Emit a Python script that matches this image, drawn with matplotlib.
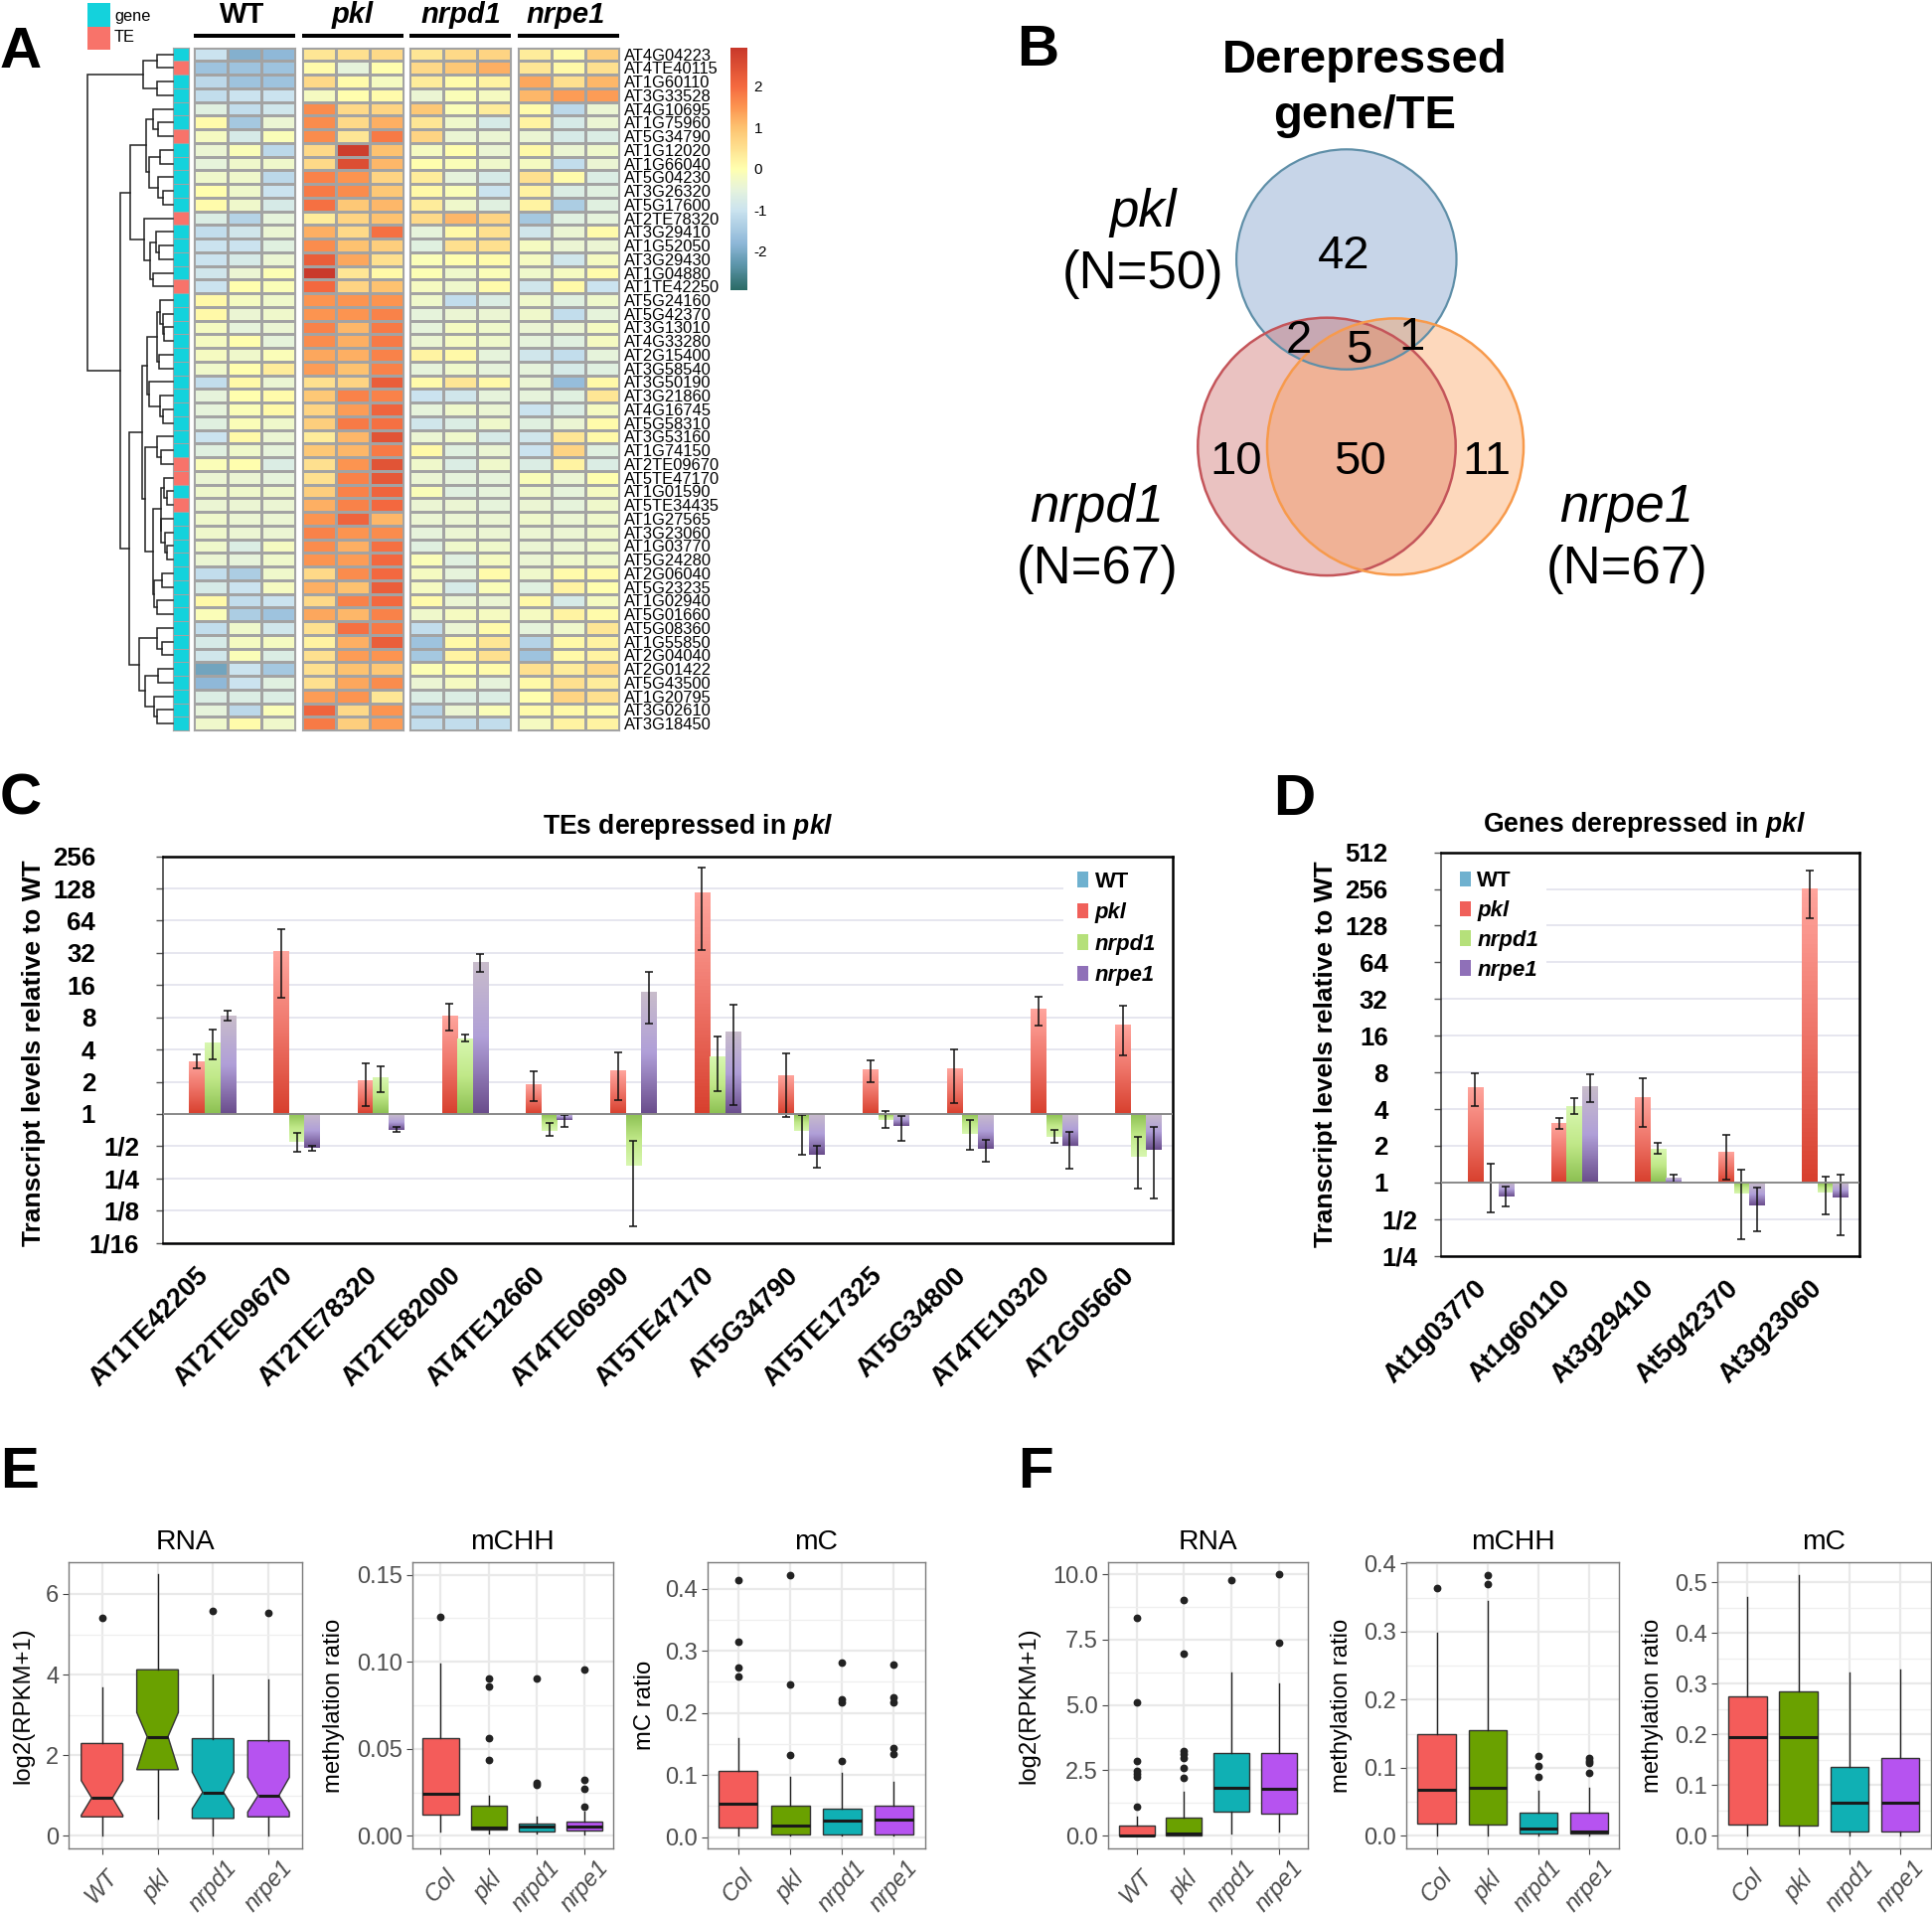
import numpy as np
import matplotlib
matplotlib.use("Agg")
import matplotlib.pyplot as plt
from matplotlib.colors import LinearSegmentedColormap, ListedColormap, Normalize
from matplotlib.cm import ScalarMappable
from matplotlib.patches import Circle, Rectangle, Patch

plt.rcParams['font.family'] = 'Liberation Sans'
plt.rcParams['mathtext.fontset'] = 'custom'
plt.rcParams['mathtext.rm'] = 'Liberation Sans'
plt.rcParams['mathtext.it'] = 'Liberation Sans:italic'
plt.rcParams['mathtext.bf'] = 'Liberation Sans:bold'
plt.rcParams['mathtext.bfit'] = 'Liberation Sans:italic:bold'

W, H = 1944, 1925

# ---- panel A data
row_names = ["AT4G04223", "AT4TE40115", "AT1G60110", "AT3G33528", "AT4G10695", "AT1G75960", "AT5G34790",
             "AT1G12020", "AT1G66040", "AT5G04230", "AT3G26320", "AT5G17600", "AT2TE78320", "AT3G29410",
             "AT1G52050", "AT3G29430", "AT1G04880", "AT1TE42250", "AT5G24160", "AT5G42370", "AT3G13010",
             "AT4G33280", "AT2G15400", "AT3G58540", "AT3G50190", "AT3G21860", "AT4G16745", "AT5G58310",
             "AT3G53160", "AT1G74150", "AT2TE09670", "AT5TE47170", "AT1G01590", "AT5TE34435", "AT1G27565",
             "AT3G23060", "AT1G03770", "AT5G24280", "AT2G06040", "AT5G23235", "AT1G02940", "AT5G01660",
             "AT5G08360", "AT1G55850", "AT2G04040", "AT2G01422", "AT5G43500", "AT1G20795", "AT3G02610",
             "AT3G18450"]
te_rows = [1, 6, 12, 17, 30, 31, 33]

heat_wt = [[-1.0,-1.9,-1.8],[-1.6,-1.6,-1.6],[-1.2,-1.6,-1.6],[-1.1,-1.0,-1.0],[-0.6,-1.1,-0.9],
           [0.05,-1.5,-0.4],[-0.2,-0.8,-0.1],[-0.4,-0.1,-1.2],[-0.5,-0.3,-0.3],[-0.3,-0.3,-1.2],
           [0,-0.3,-1.0],[0.05,-0.3,-0.8],[-0.7,-1.3,-0.5],[-1.1,-0.9,-0.4],[-1.0,-1.0,-0.6],
           [-1.0,-0.8,-0.4],[-0.9,-0.4,-0.05],[-1.0,0,-0.1],[0.1,-0.2,-0.3],[0.1,-0.4,-0.3],
           [-0.2,-0.5,-0.4],[-0.2,0,-0.5],[-0.2,-0.3,-0.1],[-0.3,0,0.3],[-1.1,0.1,-0.4],
           [-0.5,0,0.05],[-0.5,-0.1,0.1],[-0.6,-0.1,-0.3],[-1.0,0.1,-0.4],[-0.6,-0.3,-0.5],
           [-0.1,0,-0.7],[-0.4,-0.4,-0.5],[-0.3,-0.3,-0.3],[-0.4,-0.4,-0.4],[-0.3,-0.4,-0.4],
           [-0.3,-0.4,-0.4],[-0.3,-0.7,-0.2],[-0.4,-0.5,-0.3],[-1.1,-1.4,-0.3],[-0.8,-1.0,-0.2],
           [0.1,-1.1,-1.0],[-0.1,-1.4,-1.6],[-1.1,-0.3,-0.9],[-0.8,-0.2,-0.2],[-0.9,-0.1,-0.7],
           [-2.1,-1.0,-1.5],[-1.8,-1.0,-0.6],[-0.7,-0.7,-0.7],[-0.5,-1.2,-0.1],[-0.3,0.05,-0.3]]
heat_pkl = [[0.4,0.5,0.6],[0.05,-0.5,0.0],[0.6,0.05,-0.2],[-0.2,0,0.05],[1.6,0.6,0.7],
            [1.6,0.6,1.2],[1.6,0.4,1.8],[0.6,2.8,1.0],[0.6,2.5,1.1],[1.7,1.5,0.7],
            [1.8,1.6,0.9],[1.9,0.9,1.1],[0.3,0.7,1.0],[1.2,0.6,1.9],[1.6,1.0,0.8],
            [2.2,1.3,0.5],[2.9,0.4,0.1],[2.0,0.7,1.0],[1.5,1.5,1.5],[1.5,1.5,1.7],
            [1.7,1.1,1.8],[1.6,1.2,1.8],[1.3,1.2,1.7],[1.4,1.0,1.7],[0.5,0.7,2.2],
            [0.9,1.7,1.7],[0.7,1.4,2.1],[0.8,1.8,1.9],[0.3,1.1,2.4],[0.9,1.1,1.8],
            [0.5,1.5,2.4],[0.5,1.7,2.3],[0.8,1.7,2.1],[1.2,1.7,2.0],[1.5,2.1,1.1],
            [1.7,1.5,1.6],[1.6,1.2,1.9],[1.5,1.4,2.0],[0.6,1.6,2.0],[1.2,1.0,2.2],
            [0.6,1.7,2.0],[1.3,1.1,1.7],[0.5,1.9,1.8],[0.2,1.2,2.2],[0.5,1.4,1.5],
            [0.5,1.0,0.9],[0.5,1.3,1.6],[1.4,1.5,0.4],[2.1,0.6,1.5],[1.8,0.8,1.4]]
heat_nrpd1 = [[0.4,0.6,0.7],[0.6,0.9,1.2],[0.3,0.05,0.2],[-0.4,-0.1,-0.2],[0.9,-0.1,0.3],
              [0.4,-0.3,-0.8],[0.7,-0.4,-0.4],[-0.2,0,-0.4],[0,-0.1,-0.3],[0.3,-0.5,-0.8],
              [0.1,-0.1,-1.0],[0.3,-0.3,-0.6],[0.6,1.1,0.7],[-0.5,0.1,0.5],[-0.6,0.5,0.5],
              [-0.1,0,0.05],[-0.05,-0.3,-0.1],[-0.2,-0.3,0.05],[-0.3,-1.1,-0.7],[-0.5,-0.4,-0.4],
              [-0.5,-0.2,-0.3],[-0.4,-0.2,-0.3],[0.2,0.1,-0.5],[-0.5,-0.3,-0.5],[0.05,0.4,0.1],
              [-1.0,-0.9,-0.5],[-0.5,-0.3,-0.4],[-0.9,-0.7,-0.3],[-0.4,-0.3,-0.8],[0.1,-0.6,-0.4],
              [-0.3,-0.7,-0.3],[-0.4,-0.5,-0.5],[-0.1,-0.6,-0.5],[-0.4,-0.4,-0.5],[-0.4,-0.4,-0.4],
              [-0.5,-0.4,-0.4],[-0.6,-0.3,-0.3],[-0.1,-0.6,-0.2],[-0.2,-0.5,0.05],[-0.2,-0.8,-0.1],
              [0.05,-0.4,-0.4],[-0.3,-0.2,-0.2],[-1.1,-0.4,0.05],[-1.6,0.1,0.4],[-1.5,0.2,0.5],
              [-0.05,0,0.05],[-0.4,-0.2,-0.5],[-0.7,-0.7,-0.7],[-1.3,-0.4,-0.1],[-1.1,-1.1,-1.1]]
heat_nrpe1 = [[0.3,0.05,0.8],[0.4,0.1,0.5],[1.3,0.5,1.1],[1.1,1.4,1.4],[0.05,-1.2,-0.4],
              [0.2,-0.8,-0.4],[-0.4,-0.8,-0.7],[0.1,-0.4,-0.3],[-0.2,-1.1,-0.4],[0.5,0.05,-0.7],
              [0.2,-0.7,-0.6],[0.2,-1.4,-0.6],[-1.5,-0.6,-0.5],[-0.9,-0.4,0.05],[-0.2,-0.4,-0.4],
              [-0.2,-0.9,-0.2],[-0.3,-0.2,0.05],[-0.9,0.1,-1.0],[-0.3,-0.6,-0.3],[-0.3,-1.1,-0.5],
              [-0.4,-0.4,-0.2],[-0.5,-0.6,-0.2],[-0.9,-1.1,-0.5],[-0.5,-0.8,-0.6],[-0.4,-1.7,0.1],
              [-0.5,-0.6,0.4],[-1.0,-0.7,-0.2],[-0.6,-0.4,0.05],[-0.9,0.4,0.1],[-1.0,0.7,-0.6],
              [-0.7,0.2,-0.7],[-0.1,-0.4,0],[-0.3,-0.5,-0.2],[-0.4,-0.5,-0.3],[-0.3,-0.4,-0.3],
              [-0.4,-0.4,-0.3],[-0.4,-0.4,-0.3],[-0.4,-0.3,-0.3],[-0.3,0.05,0.05],[-0.6,0.2,0],
              [0.1,-0.8,-0.2],[-0.2,0.2,0.05],[-0.5,-0.3,0.4],[-1.3,0.1,0.2],[-1.6,0.1,0.2],
              [0.5,0.3,0.6],[0.1,0.5,0.3],[0,0.7,0.5],[0.05,0.1,0.05],[-0.2,0.2,0.2]]

# row clustering, [distance, left, right], ints are rows
tree = [169,
        [58, [30, 0, 1], [31, 2, 3]],
        [103,
         [83,
          [53, [38, 4, [28, 5, 6]], [47, [24, 7, 8], [29, 9, [19, 10, 11]]]],
          [56, 12, [44, [33, 13, [26, 14, 15]], [38, 16, 17]]]],
         [85,
          [61,
           [51,
            [31, [24, 18, [19, 19, [16, 20, 21]]], [26, 22, 23]],
            [46, 24, [24, 25, [18, 26, 27]]]],
           [55,
            [31, 28, [23, 29, 30]],
            [38,
             [23, [16, 31, [10, 32, 33]], [22, 34, [14, 35, [10, 36, 37]]]],
             [36, [21, 38, 39], [30, 40, 41]]]]],
          [66,
           [31, 42, [21, 43, 44]],
           [55, [28, 45, 46], [36, 47, [31, 48, 49]]]]]]]

# ---- panel B data
venn_counts = ["42", "2", "5", "1", "10", "50", "11"]

# ---- panel C data, log2 fold change relative to WT
c_names = ["AT1TE42205", "AT2TE09670", "AT2TE78320", "AT2TE82000", "AT4TE12660", "AT4TE06990",
           "AT5TE47170", "AT5G34790", "AT5TE17325", "AT5G34800", "AT4TE10320", "AT2G05660"]
c_pkl = [1.63, 5.03, 1.02, 3.05, 0.92, 1.34, 6.86, 1.19, 1.36, 1.39, 3.24, 2.76]
c_pkl_hi = [1.85, 5.74, 1.56, 3.42, 1.31, 1.90, 7.64, 1.88, 1.66, 2.00, 3.63, 3.35]
c_pkl_lo = [1.41, 3.61, 0.23, 2.58, 0.39, 0.43, 5.09, -0.11, 0.98, 0.33, 2.74, 1.83]
c_nrpd1 = [2.21, -0.87, 1.14, 2.34, -0.52, -1.62, 1.76, -0.52, -0.18, -0.62, -0.70, -1.33]
c_nrpd1_hi = [2.61, -0.58, 1.48, 2.46, -0.28, -0.84, 2.40, -0.03, 0.09, -0.20, -0.50, -0.72]
c_nrpd1_lo = [1.71, -1.18, 0.69, 2.25, -0.69, -3.49, 0.70, -1.26, -0.43, -1.12, -0.90, -2.31]
c_nrpe1 = [3.05, -1.06, -0.49, 4.71, -0.19, 3.79, 2.53, -1.28, -0.38, -1.09, -1.00, -1.12]
c_nrpe1_hi = [3.22, -0.98, -0.41, 4.97, -0.03, 4.40, 3.40, -0.99, -0.06, -0.79, -0.55, -0.41]
c_nrpe1_lo = [2.89, -1.14, -0.55, 4.41, -0.39, 2.80, 0.28, -1.68, -0.84, -1.48, -1.70, -2.63]
c_ticks = ["1/16", "1/8", "1/4", "1/2", "1", "2", "4", "8", "16", "32", "64", "128", "256"]

# ---- panel D data
d_names = ["At1g03770", "At1g60110", "At3g29410", "At5g42370", "At3g23060"]
d_pkl = [2.59, 1.62, 2.31, 0.82, 8.00]
d_pkl_hi = [2.97, 1.76, 2.83, 1.31, 8.49]
d_pkl_lo = [2.07, 1.45, 1.50, 0.08, 7.20]
d_nrpd1 = [0.0, 2.08, 0.92, -0.31, -0.27]
d_nrpd1_hi = [0.51, 2.29, 1.07, 0.35, 0.17]
d_nrpd1_lo = [-0.81, 1.87, 0.77, -1.56, -0.87]
d_nrpe1 = [-0.38, 2.61, 0.12, -0.62, -0.40]
d_nrpe1_hi = [-0.12, 2.95, 0.22, -0.13, 0.20]
d_nrpe1_lo = [-0.65, 2.20, 0.0, -1.34, -1.45]
d_ticks = ["1/4", "1/2", "1", "2", "4", "8", "16", "32", "64", "128", "256", "512"]

# ---- panels E and F data, one list per box statistic
labels_wt = ["WT", "pkl", "nrpd1", "nrpe1"]
labels_col = ["Col", "pkl", "nrpd1", "nrpe1"]

e_rna_lo = [0.0, 0.43, 0.0, 0.0]
e_rna_q1 = [0.47, 1.64, 0.43, 0.47]
e_rna_med = [0.94, 2.46, 1.08, 1.0]
e_rna_q3 = [2.29, 4.12, 2.41, 2.36]
e_rna_hi = [3.67, 6.48, 3.99, 3.88]
e_rna_cilo = [0.51, 1.64, 0.67, 0.59]
e_rna_cihi = [1.37, 3.06, 1.58, 1.45]
e_rna_out = [[5.41], [], [5.58], [5.54]]

e_chh_lo = [0.0027, 0.0013, 0.0013, 0.001]
e_chh_q1 = [0.0124, 0.0038, 0.0025, 0.003]
e_chh_med = [0.024, 0.005, 0.0051, 0.0051]
e_chh_q3 = [0.0562, 0.0175, 0.007, 0.008]
e_chh_hi = [0.099, 0.0232, 0.0109, 0.0141]
e_chh_out = [[0.1256], [0.0906, 0.086, 0.0563, 0.0436], [0.0906, 0.0303, 0.0293], [0.0958, 0.032, 0.0272, 0.0168]]

e_mc_lo = [0.002, 0.0032, 0.002, 0.002]
e_mc_q1 = [0.0149, 0.0043, 0.0043, 0.0048]
e_mc_med = [0.0539, 0.0192, 0.0267, 0.0283]
e_mc_q3 = [0.1061, 0.0507, 0.0464, 0.0501]
e_mc_hi = [0.159, 0.0976, 0.1029, 0.0896]
e_mc_out = [[0.4133, 0.314, 0.2725, 0.258], [0.4224, 0.2459, 0.1328], [0.2805, 0.2219, 0.2165, 0.1232],
            [0.2779, 0.2256, 0.2165, 0.144, 0.1333]]

f_rna_lo = [0.0, 0.0, 0.09, 0.15]
f_rna_q1 = [0.0, 0.0, 0.94, 0.86]
f_rna_med = [0.0, 0.08, 1.84, 1.81]
f_rna_q3 = [0.39, 0.70, 3.18, 3.16]
f_rna_hi = [0.72, 1.70, 6.25, 5.81]
f_rna_out = [[8.33, 5.11, 2.85, 2.49, 2.37, 2.24, 1.11], [9.0, 6.97, 3.24, 3.13, 2.97, 2.59, 2.2], [9.78], [9.99, 7.39]]

f_chh_lo = [0.0, 0.0, 0.0, 0.001]
f_chh_q1 = [0.018, 0.0165, 0.0034, 0.0039]
f_chh_med = [0.0681, 0.071, 0.0102, 0.0058]
f_chh_q3 = [0.1494, 0.1557, 0.0341, 0.0336]
f_chh_hi = [0.2978, 0.3455, 0.0667, 0.0706]
f_chh_out = [[0.364], [0.3835, 0.37], [0.1178, 0.1022, 0.0871], [0.1144, 0.1105, 0.1066, 0.0925]]

f_mc_lo = [0.0, 0.0, 0.0, 0.0]
f_mc_q1 = [0.0229, 0.0203, 0.0085, 0.0092]
f_mc_med = [0.1948, 0.1954, 0.0654, 0.0647]
f_mc_q3 = [0.2745, 0.2856, 0.1353, 0.1542]
f_mc_hi = [0.4719, 0.5144, 0.3229, 0.3281]
f_mc_out = [[], [], [], []]

box_colors = ["#f45c5a", "#6aa100", "#10b0b4", "#b653f0"]


def px_box(l, t, r, b):
    return [l / W, 1 - b / H, (r - l) / W, (b - t) / H]


fig = plt.figure(figsize=(W / 100, H / 100), dpi=100, facecolor="white")

# overlay in pixel coordinates, for the loose text and the venn diagram
ov = fig.add_axes([0, 0, 1, 1], zorder=5)
ov.set_xlim(0, W)
ov.set_ylim(H, 0)
ov.axis("off")

for letter, x, y in [("A", 0, 68), ("B", 1023, 66), ("C", 0, 820), ("D", 1281, 820), ("E", 0, 1497), ("F", 1024, 1497)]:
    ov.text(x, y, letter, fontsize=42, fontweight="bold", ha="left", va="baseline")

# ---------- A: heatmap
heat_top, heat_bottom = 47.7, 735
heat_cols = [(195, 296.5), (304, 405.6), (412, 514), (521, 622.5)]
heat_vals = [heat_wt, heat_pkl, heat_nrpd1, heat_nrpe1]
heat_titles = [("WT", "normal", 244), ("pkl", "italic", 355), ("nrpd1", "italic", 464), ("nrpe1", "italic", 569)]
vmax = 2.93
stops = [(-2.93, "#2b6b66"), (-2.3, "#5f97ad"), (-1.8, "#8fb8d8"), (-1.0, "#cbe3ef"), (-0.5, "#e6f3dc"),
         (0.0, "#ffffaf"), (0.5, "#fee08f"), (1.0, "#fdc270"), (1.5, "#fc9450"), (2.0, "#f4693f"),
         (2.93, "#c8382a")]
heat_cmap = LinearSegmentedColormap.from_list("heat", [((v + vmax) / (2 * vmax), c) for v, c in stops])

for (l, r), vals, (name, style, cx) in zip(heat_cols, heat_vals, heat_titles):
    ax = fig.add_axes(px_box(l, heat_top, r, heat_bottom))
    ax.pcolormesh(np.array(vals), cmap=heat_cmap, vmin=-vmax, vmax=vmax, edgecolors="#a3a3a3", linewidth=0.9)
    ax.set_ylim(50, 0)
    ax.set_xticks([])
    ax.set_yticks([])
    for s in ax.spines.values():
        s.set_color("#a3a3a3")
    ov.text(cx, 23, name, fontsize=21, fontweight="bold", fontstyle=style, ha="center", va="baseline")
    ov.add_patch(Rectangle((l, 34), r - l, 4, color="black", lw=0))
ax.yaxis.tick_right()
ax.set_yticks(np.arange(50) + 0.5)
ax.set_yticklabels(row_names, fontsize=11.9)
ax.tick_params(axis="y", length=0, pad=3.6)

ann = fig.add_axes(px_box(174, heat_top, 190, heat_bottom))
is_te = np.zeros((50, 1))
is_te[te_rows] = 1
ann_cmap = ListedColormap(["#14d2dc", "#f8736a"])
ann.pcolormesh(is_te, cmap=ann_cmap, vmin=0, vmax=1, edgecolors="#a3a3a3", linewidth=0.6)
ann.set_ylim(50, 0)
ann.set_xticks([])
ann.set_yticks([])
for s in ann.spines.values():
    s.set_color("#a3a3a3")

ov.add_patch(Rectangle((88, 3), 23, 24, color="#14d2dc", lw=0))
ov.add_patch(Rectangle((88, 27), 23, 23, color="#f8736a", lw=0))
ov.text(115, 16, "gene", fontsize=11.8, va="center")
ov.text(115, 38, "TE", fontsize=11.8, va="center")

dend = fig.add_axes(px_box(87.8, heat_top, 173.5, heat_bottom))
dend.set_xlim(169, 0)
dend.set_ylim(50, 0)
dend.axis("off")
dend.patch.set_alpha(0)


def draw_node(node):
    if isinstance(node, int):
        return 0, node + 0.5
    d, a, b = node
    da, ya = draw_node(a)
    db, yb = draw_node(b)
    dend.plot([da, d, d, db], [ya, ya, yb, yb], color="#222222", lw=1.1, solid_joinstyle="miter", clip_on=False)
    return d, (ya + yb) / 2


draw_node(tree)

cax = fig.add_axes(px_box(735, 47.7, 751.5, 291.7))
cb = fig.colorbar(ScalarMappable(Normalize(-vmax, vmax), heat_cmap), cax=cax, ticks=[-2, -1, 0, 1, 2])
cb.outline.set_visible(False)
cb.ax.tick_params(length=0, labelsize=11, pad=5)
cb.ax.set_yticklabels(["-2", "-1", "0", "1", "2"])

# ---------- B: venn
ov.add_patch(Circle((1354.8, 261), 110.7, fc="#a5bcdb", ec="none", alpha=0.62))
ov.add_patch(Circle((1335, 449.4), 129.7, fc="#c9605e", ec="none", alpha=0.38))
ov.add_patch(Circle((1404, 449.4), 129, fc="#fb9a50", ec="none", alpha=0.38))
ov.add_patch(Circle((1354.8, 261), 110.7, fc="none", ec="#5f8fa8", lw=1.6))
ov.add_patch(Circle((1335, 449.4), 129.7, fc="none", ec="#c4555a", lw=1.8))
ov.add_patch(Circle((1404, 449.4), 129, fc="none", ec="#f79a4c", lw=1.8))
venn_xy = [(1352, 258), (1306.7, 343), (1367, 353), (1420.6, 340), (1243.6, 465), (1368.7, 465), (1496, 465)]
for txt, (x, y) in zip(venn_counts, venn_xy):
    ov.text(x, y, txt, fontsize=34, ha="center", va="center")
ov.text(1373.5, 61, "Derepressed", fontsize=34, fontweight="bold", ha="center", va="center")
ov.text(1373.5, 117, "gene/TE", fontsize=34, fontweight="bold", ha="center", va="center")
ov.text(1149.6, 214, "pkl", fontsize=38, fontstyle="italic", ha="center", va="center")
ov.text(1149.6, 276, "(N=50)", fontsize=38, ha="center", va="center")
ov.text(1104, 511, "nrpd1", fontsize=38, fontstyle="italic", ha="center", va="center")
ov.text(1104, 573, "(N=67)", fontsize=38, ha="center", va="center")
ov.text(1637, 511, "nrpe1", fontsize=38, fontstyle="italic", ha="center", va="center")
ov.text(1637, 573, "(N=67)", fontsize=38, ha="center", va="center")

# ---------- C and D: gradient bars
pkl_cmap = LinearSegmentedColormap.from_list("p", ["#d8402e", "#ee7468", "#ffa49c"])
nrpd1_cmap = LinearSegmentedColormap.from_list("g", ["#8cc052", "#c0e888", "#d8f7b0"])
nrpe1_cmap = LinearSegmentedColormap.from_list("v", ["#6a4d8c", "#b09fd8", "#c8bccb"])
grad = np.linspace(0, 1, 64)[:, None]


def grad_bars(ax, xs, vals, hi, lo, width, cmap, flip_neg=False):
    for x, v, h, l in zip(xs, vals, hi, lo):
        g = grad[::-1] if (flip_neg and v < 0) else grad
        ax.imshow(g, extent=(x - width / 2, x + width / 2, 0, v), origin="lower", aspect="auto", cmap=cmap,
                  vmin=0, vmax=1, zorder=3)
        ax.errorbar(x, v, yerr=[[v - l], [h - v]], fmt="none", ecolor="#111111", elinewidth=1.1, capsize=3,
                    capthick=1.1, zorder=4)


def qpcr_panel(box, names, pkl, pkl_hi, pkl_lo, nrpd1, nrpd1_hi, nrpd1_lo, nrpe1, nrpe1_hi, nrpe1_lo,
               ticks, y_bottom, int_pad, frac_pad):
    ax = fig.add_axes(px_box(*box))
    n = len(names)
    xs = np.arange(n)
    w = 0.184
    grad_bars(ax, xs - 0.5 * w, pkl, pkl_hi, pkl_lo, w, pkl_cmap)
    grad_bars(ax, xs + 0.5 * w, nrpd1, nrpd1_hi, nrpd1_lo, w, nrpd1_cmap)
    grad_bars(ax, xs + 1.5 * w, nrpe1, nrpe1_hi, nrpe1_lo, w, nrpe1_cmap, flip_neg=True)
    ax.set_xlim(-0.5, n - 0.5)
    ax.set_ylim(y_bottom, y_bottom + len(ticks) - 1)
    ax.set_yticks(np.arange(y_bottom, y_bottom + len(ticks)))
    ax.set_yticklabels(ticks, fontsize=18.6, fontweight="bold")
    ax.tick_params(axis="y", length=5, color="#555555", width=1)
    for t, lab in zip(ax.yaxis.get_major_ticks(), ticks):
        t.set_pad(frac_pad if "/" in lab else int_pad)
    ax.grid(axis="y", color="#e2e2ec", lw=1.2, zorder=0)
    ax.set_axisbelow(True)
    ax.axhline(0, color="#8a8a8a", lw=1.4, zorder=5)
    ax.set_xticks(xs)
    ax.set_xticklabels(names, fontsize=19.4, fontweight="bold", rotation=45, ha="right", va="center",
                       rotation_mode="anchor")
    ax.tick_params(axis="x", length=0, pad=21)
    for side in ["top", "bottom", "right"]:
        ax.spines[side].set_linewidth(1.8)
        ax.spines[side].set_color("black")
    ax.spines["left"].set_linewidth(1.1)
    ax.spines["left"].set_color("#333333")
    return ax


legend_handles = [Patch(fc="#6fb1cf", label="WT"), Patch(fc="#f0605a", label="pkl"),
                  Patch(fc="#b5e07a", label="nrpd1"), Patch(fc="#8f70b8", label="nrpe1")]


def panel_legend(ax, x0, x1, y1, size, pad, spacing, anchor_x):
    # white patch keeps the grid lines off the legend
    ax.add_patch(Rectangle((x0, y1), x1 - x0, 1 - y1, transform=ax.transAxes, fc="white", ec="none", zorder=1))
    leg = ax.legend(handles=legend_handles, loc="upper left", bbox_to_anchor=(anchor_x, 0.998), borderaxespad=0,
                    prop={"size": size, "weight": "bold"}, frameon=False, borderpad=pad, labelspacing=spacing,
                    handlelength=0.5, handleheight=0.7, handletextpad=0.3)
    leg.set_zorder(6)
    for t in leg.get_texts()[1:]:
        t.set_fontstyle("italic")


ax_c = qpcr_panel((163.7, 861.6, 1180, 1250.6), c_names, c_pkl, c_pkl_hi, c_pkl_lo, c_nrpd1, c_nrpd1_hi,
                  c_nrpd1_lo, c_nrpe1, c_nrpe1_hi, c_nrpe1_lo, c_ticks, -4, 43.7, 12)
ax_c.set_ylabel("Transcript levels relative to WT", fontsize=19, fontweight="bold", va="center")
ax_c.yaxis.set_label_coords((34 - 163.7) / 1016.3, 0.49)
ax_c.set_title(r"TEs derepressed in $\mathbfit{pkl}$", fontsize=19.1, fontweight="bold", pad=0,
               x=(692 - 163.7) / 1016.3, y=(861.6 - 832 + 389) / 389, va="center")
panel_legend(ax_c, (1070 - 163.7) / 1016.3, 1.0, 1 - (992 - 861.6) / 389, 15.8, 0.65, 0.48, (1070 - 163.7) / 1016.3)

ax_d = qpcr_panel((1450, 857.6, 1871, 1263.7), d_names, d_pkl, d_pkl_hi, d_pkl_lo, d_nrpd1, d_nrpd1_hi,
                  d_nrpd1_lo, d_nrpe1, d_nrpe1_hi, d_nrpe1_lo, d_ticks, -2, 33.4, 12)
ax_d.set_ylabel("Transcript levels relative to WT", fontsize=19, fontweight="bold", va="center")
ax_d.yaxis.set_label_coords((1334 - 1450) / 421, 0.5)
ax_d.set_title(r"Genes derepressed in $\mathbfit{pkl}$", fontsize=19.1, fontweight="bold", pad=0,
               x=(1655 - 1450) / 421, y=(857.6 - 830 + 406) / 406, va="center")
panel_legend(ax_d, 0.0, (1556 - 1450) / 421, 1 - (984 - 857.6) / 406, 16, 0.8, 0.4, 0.002)


# ---------- E and F: boxplots
def box_panel(box, title, ylabel, label_x, xlabels, lo, q1, med, q3, hi, out, yticks, ticktext, ylim,
              cilo=None, cihi=None):
    ax = fig.add_axes(px_box(box[0], 1571.7, box[1], 1860.3))
    stats = []
    for i in range(4):
        s = {"whislo": lo[i], "q1": q1[i], "med": med[i], "q3": q3[i], "whishi": hi[i], "fliers": out[i]}
        if cilo is not None:
            s["cilo"] = cilo[i]
            s["cihi"] = cihi[i]
        stats.append(s)
    parts = ax.bxp(stats, positions=[1, 2, 3, 4], widths=0.75, patch_artist=True, showcaps=False,
                   shownotches=cilo is not None, manage_ticks=False,
                   boxprops={"edgecolor": "#333333", "linewidth": 1.0},
                   whiskerprops={"color": "#222222", "linewidth": 1.0},
                   medianprops={"color": "#1a1a1a", "linewidth": 2.2, "solid_capstyle": "butt"},
                   flierprops={"marker": "o", "markerfacecolor": "#222222", "markeredgecolor": "#222222",
                               "markersize": 4.6})
    for patch, c in zip(parts["boxes"], box_colors):
        patch.set_facecolor(c)
    ax.set_xlim(0.4, 4.6)
    ax.set_ylim(*ylim)
    ax.set_xticks([1, 2, 3, 4])
    ax.set_xticklabels(xlabels, fontsize=17, fontstyle="italic", color="#4d4d4d", rotation=48, ha="center",
                       va="center", rotation_mode="default")
    ax.tick_params(axis="x", length=4, color="#444444", pad=23)
    ax.set_yticks(yticks)
    ax.set_yticklabels(ticktext, fontsize=17, color="#4d4d4d")
    ax.tick_params(axis="y", length=4, color="#444444", pad=3)
    ax.set_yticks((np.array(yticks[:-1]) + np.array(yticks[1:])) / 2, minor=True)
    ax.tick_params(axis="y", which="minor", length=0)
    ax.grid(which="major", color="#e9e9e9", lw=1.6)
    ax.grid(which="minor", axis="y", color="#efefef", lw=0.9)
    ax.set_axisbelow(True)
    for s in ax.spines.values():
        s.set_color("#7a7a7a")
        s.set_linewidth(1.0)
    ax.set_ylabel(ylabel, fontsize=17.2, va="center")
    ax.yaxis.set_label_coords((label_x - box[0]) / (box[1] - box[0]), 0.5)
    ax.set_title(title, fontsize=20.3, pad=0, y=(1571.7 - 1552 + 288.6) / 288.6, va="center")
    return ax


box_panel((69.2, 303.7), "RNA", "log2(RPKM+1)", 23, labels_wt, e_rna_lo, e_rna_q1, e_rna_med, e_rna_q3, e_rna_hi,
          e_rna_out, [0, 2, 4, 6], ["0", "2", "4", "6"], (-0.32, 6.795), cilo=e_rna_cilo, cihi=e_rna_cihi)
box_panel((414.6, 616.7), "mCHH", "methylation ratio", 335.6, labels_col, e_chh_lo, e_chh_q1, e_chh_med, e_chh_q3,
          e_chh_hi, e_chh_out, [0, 0.05, 0.10, 0.15], ["0.00", "0.05", "0.10", "0.15"], (-0.0074, 0.1574))
box_panel((711.6, 930.8), "mC", "mC ratio", 649, labels_col, e_mc_lo, e_mc_q1, e_mc_med, e_mc_q3, e_mc_hi,
          e_mc_out, [0, 0.1, 0.2, 0.3, 0.4], ["0.0", "0.1", "0.2", "0.3", "0.4"], (-0.0187, 0.4432))
box_panel((1114.8, 1316), "RNA", "log2(RPKM+1)", 1035, labels_wt, f_rna_lo, f_rna_q1, f_rna_med, f_rna_q3, f_rna_hi,
          f_rna_out, [0, 2.5, 5, 7.5, 10], ["0.0", "2.5", "5.0", "7.5", "10.0"], (-0.494, 10.47))
box_panel((1415, 1629.4), "mCHH", "methylation ratio", 1349.5, labels_col, f_chh_lo, f_chh_q1, f_chh_med, f_chh_q3,
          f_chh_hi, f_chh_out, [0, 0.1, 0.2, 0.3, 0.4], ["0.0", "0.1", "0.2", "0.3", "0.4"], (-0.019, 0.4024))
box_panel((1727.7, 1943), "mC", "methylation ratio", 1663, labels_col, f_mc_lo, f_mc_q1, f_mc_med, f_mc_q3, f_mc_hi,
          f_mc_out, [0, 0.1, 0.2, 0.3, 0.4, 0.5], ["0.0", "0.1", "0.2", "0.3", "0.4", "0.5"], (-0.0255, 0.5405))

fig.savefig("out.png", dpi=100)
